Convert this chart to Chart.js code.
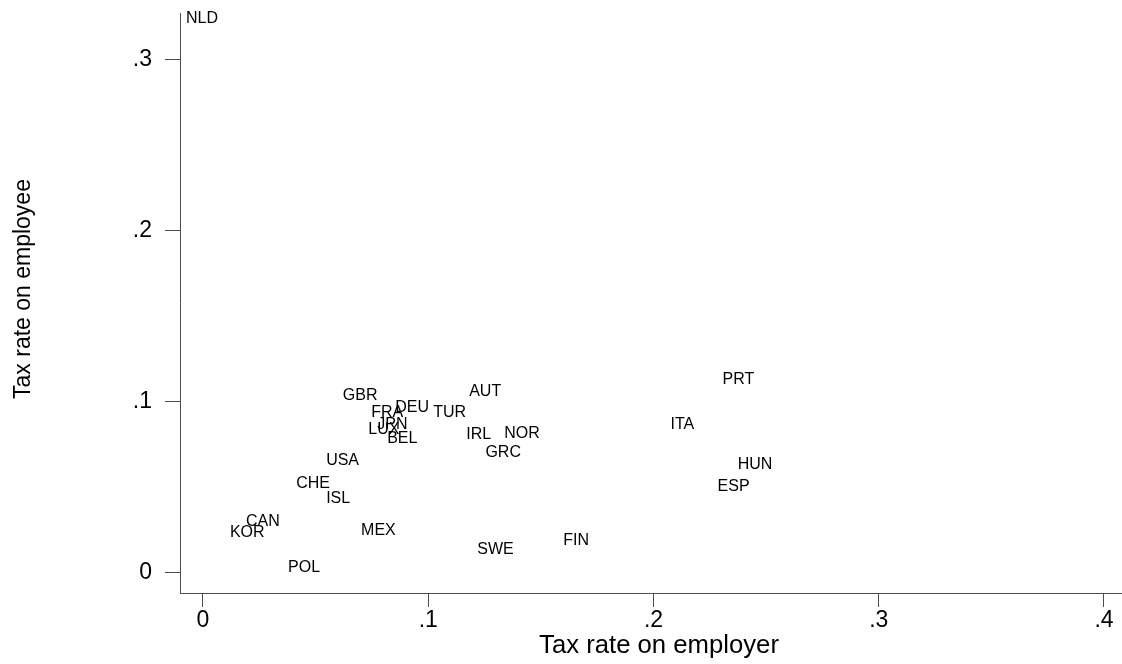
<!DOCTYPE html>
<html>
<head>
<meta charset="utf-8">
<title>Tax rates on employer and employee</title>
<script src="https://cdn.jsdelivr.net/npm/chart.js@4"></script>
<style>
  html, body { margin: 0; padding: 0; background: #ffffff; }
  #wrap { width: 1122px; height: 664px; position: relative; }
</style>
</head>
<body>
<div id="wrap"><canvas id="chart"></canvas></div>
<script>
// Country codes and their payroll tax rates
const countries = ['NLD','GBR','FRA','DEU','TUR','AUT','JPN','LUX','BEL','IRL','NOR','GRC',
                   'USA','CHE','ISL','CAN','KOR','MEX','POL','SWE','FIN','PRT','ITA','HUN','ESP'];
const employerRate = [-0.0093, 0.0603, 0.0729, 0.0836, 0.1004, 0.1164, 0.0756, 0.0716, 0.0800, 0.1151, 0.1320, 0.1236,
                      0.0529, 0.0396, 0.0529, 0.0173, 0.0102, 0.0684, 0.0360, 0.1200, 0.1582, 0.2289, 0.2058, 0.2356, 0.2267];
const employeeRate = [0.3240, 0.1035, 0.0936, 0.0965, 0.0936, 0.1058, 0.0865, 0.0836, 0.0784, 0.0807, 0.0813, 0.0702,
                      0.0655, 0.0520, 0.0433, 0.0298, 0.0234, 0.0246, 0.0029, 0.0135, 0.0187, 0.1129, 0.0865, 0.0632, 0.0503];

// Axis ticks
const xTickValues = [0, 0.1, 0.2, 0.3, 0.4];
const xTickLabels = ['0', '.1', '.2', '.3', '.4'];
const yTickValues = [0, 0.1, 0.2, 0.3];
const yTickLabels = ['0', '.1', '.2', '.3'];

const xTitle = 'Tax rate on employer';
const yTitle = 'Tax rate on employee';

const FONT = "'Liberation Sans', Arial, Helvetica, sans-serif";
const INK = '#000000';
const AXIS = '#4d4d4d';

const points = countries.map((c, i) => ({ x: employerRate[i], y: employeeRate[i], label: c }));

// Draws each country code just to the right of its (invisible) point
const markerLabels = {
  id: 'markerLabels',
  afterDatasetsDraw(chart) {
    const ctx = chart.ctx;
    const meta = chart.getDatasetMeta(0);
    ctx.save();
    ctx.font = '16px ' + FONT;
    ctx.fillStyle = INK;
    ctx.textAlign = 'left';
    ctx.textBaseline = 'middle';
    meta.data.forEach((el, i) => {
      ctx.fillText(points[i].label, el.x + 4, el.y);
    });
    ctx.restore();
  }
};

// Axis titles, placed relative to the plot area
const axisTitles = {
  id: 'axisTitles',
  afterDraw(chart) {
    const ctx = chart.ctx;
    const area = chart.chartArea;
    ctx.save();
    ctx.fillStyle = INK;
    ctx.textAlign = 'center';
    ctx.textBaseline = 'alphabetic';
    ctx.font = '25.7px ' + FONT;
    ctx.fillText(xTitle, (area.left + area.right) / 2 + 8, chart.height - 11);
    ctx.font = '23px ' + FONT;
    ctx.translate(29.5, (area.top + area.bottom) / 2 - 14);
    ctx.rotate(-Math.PI / 2);
    ctx.fillText(yTitle, 0, 0);
    ctx.restore();
  }
};

function fixedTicks(values) {
  return function (scale) { scale.ticks = values.map(v => ({ value: v })); };
}

new Chart(document.getElementById('chart'), {
  type: 'scatter',
  data: {
    datasets: [{
      data: points,
      pointRadius: 0,
      pointHoverRadius: 0,
      showLine: false
    }]
  },
  options: {
    responsive: true,
    maintainAspectRatio: false,
    animation: false,
    events: [],
    layout: { padding: { top: 13, right: 0, bottom: 0, left: 0 } },
    plugins: { legend: { display: false }, tooltip: { enabled: false } },
    scales: {
      x: {
        type: 'linear',
        min: -0.0102,
        max: 0.408,
        afterBuildTicks: fixedTicks(xTickValues),
        afterFit(scale) {
          scale.height = 71;
          scale.paddingLeft = 0;
          scale.paddingRight = 0;
        },
        grid: { drawOnChartArea: false, drawTicks: true, tickLength: 14, color: AXIS, lineWidth: 1 },
        border: { display: true, color: AXIS, width: 1 },
        ticks: {
          autoSkip: false,
          maxRotation: 0,
          padding: 0,
          color: INK,
          font: { family: FONT, size: 23 },
          callback(value) { const i = xTickValues.indexOf(value); return i >= 0 ? xTickLabels[i] : ''; }
        },
        title: { display: false }
      },
      y: {
        type: 'linear',
        min: -0.0119,
        max: 0.3275,
        afterBuildTicks: fixedTicks(yTickValues),
        afterFit(scale) {
          scale.width = 180;
          scale.paddingTop = 0;
          scale.paddingBottom = 0;
        },
        grid: { drawOnChartArea: false, drawTicks: true, tickLength: 15, color: AXIS, lineWidth: 1 },
        border: { display: true, color: AXIS, width: 1 },
        ticks: {
          autoSkip: false,
          padding: 13,
          color: INK,
          font: { family: FONT, size: 23 },
          callback(value) { const i = yTickValues.indexOf(value); return i >= 0 ? yTickLabels[i] : ''; }
        },
        title: { display: false }
      }
    }
  },
  plugins: [markerLabels, axisTitles]
});
</script>
</body>
</html>
